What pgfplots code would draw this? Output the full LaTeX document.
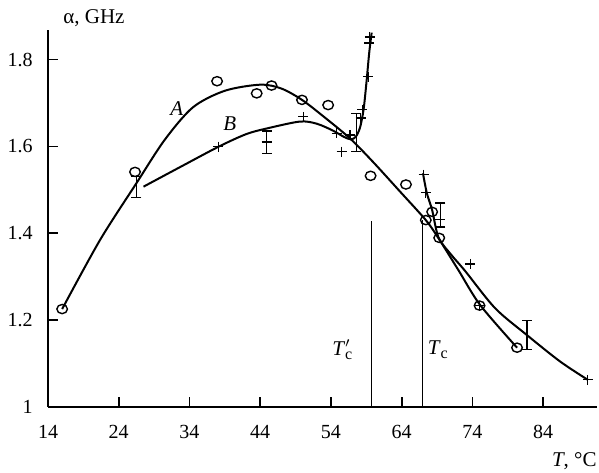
\documentclass[border=0pt]{standalone}
\usepackage{fontspec}
\setmainfont{Liberation Serif}
\usepackage{pgfplots}
\pgfplotsset{compat=1.18}
\begin{document}
\begin{tikzpicture}
\begin{axis}[
  scale only axis,
  width=274.5pt, height=188.35pt,
  xmin=14, xmax=91.6, ymin=1, ymax=1.868,
  axis x line*=bottom, axis y line*=left,
  axis line style={line width=0.8pt},
  tick align=inside, major tick length=5pt,
  tick style={line width=0.8pt, black},
  xtick={14,24,34,44,54,64,74,84},
  ytick={1,1.2,1.4,1.6,1.8},
  yticklabels={1,1.2,1.4,1.6,1.8},
  /pgf/number format/assume math mode=true,
  ticklabel style={font=\fontsize{10}{12}\selectfont},
  yticklabel style={xshift=-4.2pt},
  xticklabel style={yshift=-5.8pt},
  every axis y label/.style={at={(rel axis cs:0,1)}, anchor=base west, inner sep=0pt, xshift=7.5pt, yshift=3pt, font=\fontsize{10.5}{12}\selectfont},
  every axis x label/.style={at={(rel axis cs:1,0)}, anchor=base east, inner sep=0pt, yshift=-29.7pt, font=\fontsize{10.5}{12}\selectfont},
  ylabel={α, GHz},
  xlabel={\textit{T}, °C},
  clip=false,
  errbar/.style={black, line width=0.7pt, mark=-, mark size=2.5pt, mark options={line width=0.7pt}},
]
\coordinate (O) at (rel axis cs:0,0);
% vertical lines Tc' and Tc
\addplot[black, line width=0.5pt] coordinates {(59.7,1) (59.7,1.4286)};
\addplot[black, line width=0.5pt] coordinates {(66.95,1) (66.95,1.43)};
% curve A
\addplot[black, line width=1pt, smooth] coordinates {
(16,1.225) (21.35,1.384) (26.5,1.515) (30.5,1.615) (34.5,1.69) (39,1.728)
(44,1.742) (47,1.733) (49.9,1.707) (53,1.668) (56.7,1.618) (60,1.563)
(63.8,1.495) (67.4,1.43) (69.2,1.388) (72,1.315) (75.1,1.234) (80.3,1.136)};
% curve B
\addplot[black, line width=1pt, smooth] coordinates {
(27.5,1.507) (33,1.555) (38.1,1.599) (42,1.628) (44.9,1.641) (49.6,1.657)
(52,1.652) (54.3,1.636) (55.8,1.622) (56.8,1.616) (57.5,1.622) (58.1,1.643)
(58.6,1.684) (59.0,1.745) (59.4,1.815) (59.75,1.862)};
% curve B after Tc
\addplot[black, line width=1pt, smooth] coordinates {
(67.0,1.538) (67.55,1.492) (68.3,1.453) (69.2,1.39) (71,1.35) (73,1.312)
(77.2,1.227) (81.7,1.165) (86.4,1.104) (90.3,1.062)};
% circles
\addplot[only marks, mark=o, mark size=2.3pt, mark options={xscale=1.15, line width=0.7pt, black, fill=white}] coordinates {
(16,1.225) (26.3,1.541) (37.9,1.750) (43.5,1.722) (45.6,1.740) (49.9,1.707)
(53.6,1.695) (59.6,1.532) (64.6,1.512) (67.4,1.430) (68.3,1.449) (69.3,1.389)
(75.0,1.233) (80.3,1.136)};
% pluses
\addplot[only marks, mark=+, mark size=2.5pt, mark options={line width=0.6pt, black}] coordinates {
(38.1,1.599) (44.9,1.610) (50.1,1.668) (54.8,1.630) (55.5,1.588) (56.7,1.626)
(58.2,1.665) (58.4,1.684) (59.3,1.760) (59.4,1.838) (59.5,1.852)
(67.1,1.535) (67.4,1.493) (69.45,1.432) (73.7,1.329) (75.0,1.233) (90.3,1.062)};
% error bars
\addplot[errbar] coordinates {(26.5,1.482) (26.5,1.530)};
\addplot[errbar] coordinates {(44.9,1.584) (44.9,1.635)};
\addplot[errbar] coordinates {(57.6,1.588) (57.6,1.676)};
\addplot[errbar] coordinates {(69.45,1.414) (69.45,1.469)};
\addplot[errbar] coordinates {(81.7,1.132) (81.7,1.198)};
% labels
\node[font=\fontsize{10.5}{12}\selectfont\itshape] at (axis cs:32.2,1.688) {A};
\node[font=\fontsize{10.5}{12}\selectfont\itshape] at (axis cs:39.7,1.653) {B};
\node[font=\fontsize{10.5}{12}\selectfont] at (axis cs:55.6,1.131) {\textit{T}\rlap{$'$}\raisebox{-0.45ex}{\fontsize{8}{9}\selectfont c}};
\node[font=\fontsize{10.5}{12}\selectfont] at (axis cs:69.1,1.131) {\textit{T}\raisebox{-0.45ex}{\fontsize{8}{9}\selectfont c}};
\end{axis}
\pgfresetboundingbox
\path[use as bounding box] (O) ++(-24pt,-32.65pt) rectangle ++(299.5pt,236pt);
\end{tikzpicture}
\end{document}
